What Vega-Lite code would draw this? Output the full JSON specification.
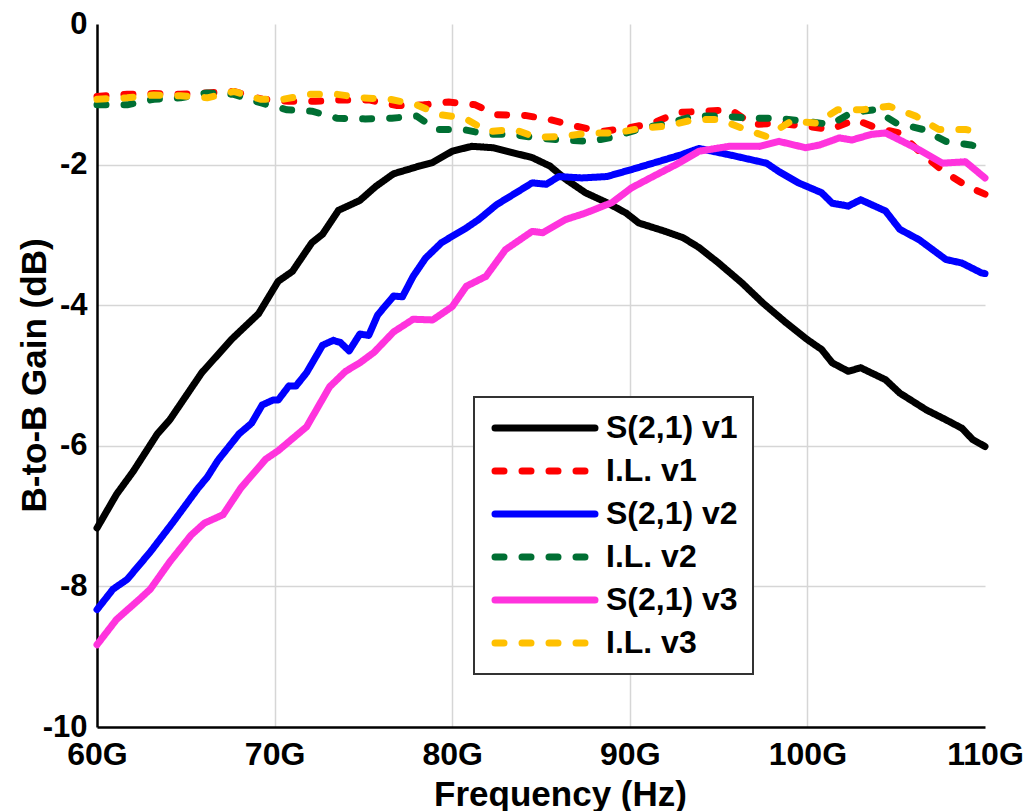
{
  "$schema": "https://vega.github.io/schema/vega-lite/v6.json",
  "width": 888,
  "height": 703,
  "autosize": "none",
  "padding": {"left": 97, "top": 24, "right": 51, "bottom": 84},
  "background": "white",
  "config": {
    "view": {"stroke": null},
    "font": "Liberation Sans",
    "legend": {"strokeWidth": 2}
  },
  "datasets": {
    "curves": [
      {"s": "S(2,1) v1", "f": 60.0, "g": -7.17}, {"s": "S(2,1) v1", "f": 61.1, "g": -6.69}, {"s": "S(2,1) v1", "f": 62.05, "g": -6.36}, {"s": "S(2,1) v1", "f": 63.4, "g": -5.83}, {"s": "S(2,1) v1", "f": 64.1, "g": -5.63}, {"s": "S(2,1) v1", "f": 65.9, "g": -4.96}, {"s": "S(2,1) v1", "f": 67.6, "g": -4.48}, {"s": "S(2,1) v1", "f": 69.1, "g": -4.12}, {"s": "S(2,1) v1", "f": 70.2, "g": -3.66}, {"s": "S(2,1) v1", "f": 71.0, "g": -3.52}, {"s": "S(2,1) v1", "f": 72.1, "g": -3.11}, {"s": "S(2,1) v1", "f": 72.7, "g": -2.99}, {"s": "S(2,1) v1", "f": 73.6, "g": -2.65}, {"s": "S(2,1) v1", "f": 74.8, "g": -2.51}, {"s": "S(2,1) v1", "f": 75.7, "g": -2.31}, {"s": "S(2,1) v1", "f": 76.7, "g": -2.13}, {"s": "S(2,1) v1", "f": 77.5, "g": -2.07}, {"s": "S(2,1) v1", "f": 78.15, "g": -2.02}, {"s": "S(2,1) v1", "f": 78.9, "g": -1.97}, {"s": "S(2,1) v1", "f": 80.0, "g": -1.81}, {"s": "S(2,1) v1", "f": 81.1, "g": -1.74}, {"s": "S(2,1) v1", "f": 82.3, "g": -1.76}, {"s": "S(2,1) v1", "f": 83.4, "g": -1.83}, {"s": "S(2,1) v1", "f": 84.5, "g": -1.9}, {"s": "S(2,1) v1", "f": 85.5, "g": -2.02}, {"s": "S(2,1) v1", "f": 86.4, "g": -2.21}, {"s": "S(2,1) v1", "f": 87.5, "g": -2.4}, {"s": "S(2,1) v1", "f": 88.7, "g": -2.54}, {"s": "S(2,1) v1", "f": 89.8, "g": -2.69}, {"s": "S(2,1) v1", "f": 90.5, "g": -2.83}, {"s": "S(2,1) v1", "f": 92.0, "g": -2.95}, {"s": "S(2,1) v1", "f": 93.0, "g": -3.04}, {"s": "S(2,1) v1", "f": 93.9, "g": -3.18}, {"s": "S(2,1) v1", "f": 95.0, "g": -3.4}, {"s": "S(2,1) v1", "f": 96.3, "g": -3.68}, {"s": "S(2,1) v1", "f": 97.5, "g": -3.97}, {"s": "S(2,1) v1", "f": 98.8, "g": -4.25}, {"s": "S(2,1) v1", "f": 100.0, "g": -4.49}, {"s": "S(2,1) v1", "f": 100.8, "g": -4.63}, {"s": "S(2,1) v1", "f": 101.4, "g": -4.82}, {"s": "S(2,1) v1", "f": 102.3, "g": -4.94}, {"s": "S(2,1) v1", "f": 103.0, "g": -4.89}, {"s": "S(2,1) v1", "f": 104.4, "g": -5.06}, {"s": "S(2,1) v1", "f": 105.2, "g": -5.25}, {"s": "S(2,1) v1", "f": 106.7, "g": -5.49}, {"s": "S(2,1) v1", "f": 107.8, "g": -5.63}, {"s": "S(2,1) v1", "f": 108.7, "g": -5.75}, {"s": "S(2,1) v1", "f": 109.3, "g": -5.91}, {"s": "S(2,1) v1", "f": 110.0, "g": -6.01},

      {"s": "I.L. v1", "f": 60.0, "g": -1.03}, {"s": "I.L. v1", "f": 61.7, "g": -1.0}, {"s": "I.L. v1", "f": 63.2, "g": -0.99}, {"s": "I.L. v1", "f": 64.7, "g": -1.0}, {"s": "I.L. v1", "f": 66.2, "g": -0.98}, {"s": "I.L. v1", "f": 67.7, "g": -0.96}, {"s": "I.L. v1", "f": 69.3, "g": -1.07}, {"s": "I.L. v1", "f": 70.8, "g": -1.1}, {"s": "I.L. v1", "f": 72.3, "g": -1.1}, {"s": "I.L. v1", "f": 73.8, "g": -1.08}, {"s": "I.L. v1", "f": 75.3, "g": -1.08}, {"s": "I.L. v1", "f": 76.9, "g": -1.16}, {"s": "I.L. v1", "f": 78.4, "g": -1.15}, {"s": "I.L. v1", "f": 79.8, "g": -1.11}, {"s": "I.L. v1", "f": 81.3, "g": -1.15}, {"s": "I.L. v1", "f": 82.5, "g": -1.29}, {"s": "I.L. v1", "f": 84.1, "g": -1.3}, {"s": "I.L. v1", "f": 85.5, "g": -1.36}, {"s": "I.L. v1", "f": 86.9, "g": -1.45}, {"s": "I.L. v1", "f": 88.4, "g": -1.53}, {"s": "I.L. v1", "f": 89.9, "g": -1.48}, {"s": "I.L. v1", "f": 91.3, "g": -1.41}, {"s": "I.L. v1", "f": 92.7, "g": -1.26}, {"s": "I.L. v1", "f": 94.2, "g": -1.24}, {"s": "I.L. v1", "f": 95.7, "g": -1.22}, {"s": "I.L. v1", "f": 96.9, "g": -1.43}, {"s": "I.L. v1", "f": 98.3, "g": -1.41}, {"s": "I.L. v1", "f": 99.8, "g": -1.45}, {"s": "I.L. v1", "f": 101.3, "g": -1.5}, {"s": "I.L. v1", "f": 102.7, "g": -1.36}, {"s": "I.L. v1", "f": 103.9, "g": -1.48}, {"s": "I.L. v1", "f": 105.2, "g": -1.55}, {"s": "I.L. v1", "f": 106.5, "g": -1.86}, {"s": "I.L. v1", "f": 107.7, "g": -2.1}, {"s": "I.L. v1", "f": 109.0, "g": -2.31}, {"s": "I.L. v1", "f": 110.0, "g": -2.42},

      {"s": "S(2,1) v2", "f": 60.0, "g": -8.33}, {"s": "S(2,1) v2", "f": 60.9, "g": -8.04}, {"s": "S(2,1) v2", "f": 61.7, "g": -7.9}, {"s": "S(2,1) v2", "f": 63.0, "g": -7.51}, {"s": "S(2,1) v2", "f": 64.3, "g": -7.08}, {"s": "S(2,1) v2", "f": 65.7, "g": -6.6}, {"s": "S(2,1) v2", "f": 66.2, "g": -6.45}, {"s": "S(2,1) v2", "f": 66.8, "g": -6.21}, {"s": "S(2,1) v2", "f": 68.0, "g": -5.83}, {"s": "S(2,1) v2", "f": 68.7, "g": -5.68}, {"s": "S(2,1) v2", "f": 69.3, "g": -5.42}, {"s": "S(2,1) v2", "f": 69.9, "g": -5.35}, {"s": "S(2,1) v2", "f": 70.2, "g": -5.35}, {"s": "S(2,1) v2", "f": 70.8, "g": -5.15}, {"s": "S(2,1) v2", "f": 71.2, "g": -5.15}, {"s": "S(2,1) v2", "f": 71.8, "g": -4.96}, {"s": "S(2,1) v2", "f": 72.7, "g": -4.57}, {"s": "S(2,1) v2", "f": 73.3, "g": -4.5}, {"s": "S(2,1) v2", "f": 73.7, "g": -4.53}, {"s": "S(2,1) v2", "f": 74.2, "g": -4.65}, {"s": "S(2,1) v2", "f": 74.8, "g": -4.41}, {"s": "S(2,1) v2", "f": 75.3, "g": -4.43}, {"s": "S(2,1) v2", "f": 75.8, "g": -4.14}, {"s": "S(2,1) v2", "f": 76.7, "g": -3.87}, {"s": "S(2,1) v2", "f": 77.2, "g": -3.88}, {"s": "S(2,1) v2", "f": 77.8, "g": -3.59}, {"s": "S(2,1) v2", "f": 78.5, "g": -3.33}, {"s": "S(2,1) v2", "f": 79.4, "g": -3.11}, {"s": "S(2,1) v2", "f": 80.8, "g": -2.9}, {"s": "S(2,1) v2", "f": 81.5, "g": -2.78}, {"s": "S(2,1) v2", "f": 82.5, "g": -2.57}, {"s": "S(2,1) v2", "f": 83.6, "g": -2.4}, {"s": "S(2,1) v2", "f": 84.5, "g": -2.26}, {"s": "S(2,1) v2", "f": 85.3, "g": -2.28}, {"s": "S(2,1) v2", "f": 86.0, "g": -2.17}, {"s": "S(2,1) v2", "f": 87.3, "g": -2.19}, {"s": "S(2,1) v2", "f": 88.7, "g": -2.17}, {"s": "S(2,1) v2", "f": 90.1, "g": -2.07}, {"s": "S(2,1) v2", "f": 91.7, "g": -1.95}, {"s": "S(2,1) v2", "f": 92.9, "g": -1.86}, {"s": "S(2,1) v2", "f": 93.9, "g": -1.77}, {"s": "S(2,1) v2", "f": 95.6, "g": -1.86}, {"s": "S(2,1) v2", "f": 97.7, "g": -1.98}, {"s": "S(2,1) v2", "f": 98.4, "g": -2.1}, {"s": "S(2,1) v2", "f": 99.5, "g": -2.26}, {"s": "S(2,1) v2", "f": 100.8, "g": -2.4}, {"s": "S(2,1) v2", "f": 101.4, "g": -2.55}, {"s": "S(2,1) v2", "f": 102.3, "g": -2.59}, {"s": "S(2,1) v2", "f": 103.0, "g": -2.5}, {"s": "S(2,1) v2", "f": 104.4, "g": -2.66}, {"s": "S(2,1) v2", "f": 105.2, "g": -2.92}, {"s": "S(2,1) v2", "f": 106.3, "g": -3.07}, {"s": "S(2,1) v2", "f": 107.8, "g": -3.35}, {"s": "S(2,1) v2", "f": 108.7, "g": -3.4}, {"s": "S(2,1) v2", "f": 109.8, "g": -3.54}, {"s": "S(2,1) v2", "f": 110.0, "g": -3.55},

      {"s": "I.L. v2", "f": 60.0, "g": -1.15}, {"s": "I.L. v2", "f": 61.7, "g": -1.15}, {"s": "I.L. v2", "f": 63.2, "g": -1.07}, {"s": "I.L. v2", "f": 64.7, "g": -1.05}, {"s": "I.L. v2", "f": 66.2, "g": -0.98}, {"s": "I.L. v2", "f": 67.7, "g": -1.0}, {"s": "I.L. v2", "f": 69.2, "g": -1.12}, {"s": "I.L. v2", "f": 70.7, "g": -1.22}, {"s": "I.L. v2", "f": 72.1, "g": -1.24}, {"s": "I.L. v2", "f": 73.5, "g": -1.34}, {"s": "I.L. v2", "f": 75.1, "g": -1.35}, {"s": "I.L. v2", "f": 76.6, "g": -1.34}, {"s": "I.L. v2", "f": 78.0, "g": -1.31}, {"s": "I.L. v2", "f": 79.1, "g": -1.5}, {"s": "I.L. v2", "f": 80.6, "g": -1.5}, {"s": "I.L. v2", "f": 82.0, "g": -1.57}, {"s": "I.L. v2", "f": 83.4, "g": -1.57}, {"s": "I.L. v2", "f": 84.7, "g": -1.62}, {"s": "I.L. v2", "f": 86.2, "g": -1.65}, {"s": "I.L. v2", "f": 87.8, "g": -1.67}, {"s": "I.L. v2", "f": 89.2, "g": -1.6}, {"s": "I.L. v2", "f": 90.7, "g": -1.48}, {"s": "I.L. v2", "f": 92.2, "g": -1.41}, {"s": "I.L. v2", "f": 93.6, "g": -1.31}, {"s": "I.L. v2", "f": 95.2, "g": -1.31}, {"s": "I.L. v2", "f": 96.7, "g": -1.34}, {"s": "I.L. v2", "f": 98.2, "g": -1.34}, {"s": "I.L. v2", "f": 99.8, "g": -1.38}, {"s": "I.L. v2", "f": 101.3, "g": -1.43}, {"s": "I.L. v2", "f": 102.5, "g": -1.26}, {"s": "I.L. v2", "f": 103.8, "g": -1.22}, {"s": "I.L. v2", "f": 105.0, "g": -1.41}, {"s": "I.L. v2", "f": 106.5, "g": -1.5}, {"s": "I.L. v2", "f": 107.8, "g": -1.67}, {"s": "I.L. v2", "f": 109.2, "g": -1.72}, {"s": "I.L. v2", "f": 110.0, "g": -1.78},

      {"s": "S(2,1) v3", "f": 60.0, "g": -8.83}, {"s": "S(2,1) v3", "f": 61.1, "g": -8.47}, {"s": "S(2,1) v3", "f": 62.4, "g": -8.18}, {"s": "S(2,1) v3", "f": 63.0, "g": -8.04}, {"s": "S(2,1) v3", "f": 64.1, "g": -7.65}, {"s": "S(2,1) v3", "f": 65.3, "g": -7.27}, {"s": "S(2,1) v3", "f": 66.05, "g": -7.1}, {"s": "S(2,1) v3", "f": 67.1, "g": -6.98}, {"s": "S(2,1) v3", "f": 68.1, "g": -6.6}, {"s": "S(2,1) v3", "f": 69.5, "g": -6.19}, {"s": "S(2,1) v3", "f": 70.2, "g": -6.07}, {"s": "S(2,1) v3", "f": 71.0, "g": -5.9}, {"s": "S(2,1) v3", "f": 71.8, "g": -5.73}, {"s": "S(2,1) v3", "f": 73.1, "g": -5.16}, {"s": "S(2,1) v3", "f": 74.0, "g": -4.94}, {"s": "S(2,1) v3", "f": 74.8, "g": -4.82}, {"s": "S(2,1) v3", "f": 75.6, "g": -4.67}, {"s": "S(2,1) v3", "f": 76.7, "g": -4.38}, {"s": "S(2,1) v3", "f": 77.8, "g": -4.2}, {"s": "S(2,1) v3", "f": 78.9, "g": -4.21}, {"s": "S(2,1) v3", "f": 80.0, "g": -4.02}, {"s": "S(2,1) v3", "f": 80.8, "g": -3.73}, {"s": "S(2,1) v3", "f": 81.9, "g": -3.59}, {"s": "S(2,1) v3", "f": 83.0, "g": -3.21}, {"s": "S(2,1) v3", "f": 84.5, "g": -2.95}, {"s": "S(2,1) v3", "f": 85.1, "g": -2.97}, {"s": "S(2,1) v3", "f": 86.4, "g": -2.78}, {"s": "S(2,1) v3", "f": 87.5, "g": -2.69}, {"s": "S(2,1) v3", "f": 89.0, "g": -2.54}, {"s": "S(2,1) v3", "f": 90.1, "g": -2.33}, {"s": "S(2,1) v3", "f": 91.3, "g": -2.17}, {"s": "S(2,1) v3", "f": 92.6, "g": -2.0}, {"s": "S(2,1) v3", "f": 93.9, "g": -1.81}, {"s": "S(2,1) v3", "f": 95.6, "g": -1.74}, {"s": "S(2,1) v3", "f": 97.3, "g": -1.74}, {"s": "S(2,1) v3", "f": 98.4, "g": -1.67}, {"s": "S(2,1) v3", "f": 99.9, "g": -1.76}, {"s": "S(2,1) v3", "f": 100.7, "g": -1.72}, {"s": "S(2,1) v3", "f": 101.8, "g": -1.62}, {"s": "S(2,1) v3", "f": 102.5, "g": -1.65}, {"s": "S(2,1) v3", "f": 103.6, "g": -1.57}, {"s": "S(2,1) v3", "f": 104.4, "g": -1.55}, {"s": "S(2,1) v3", "f": 105.2, "g": -1.65}, {"s": "S(2,1) v3", "f": 106.3, "g": -1.79}, {"s": "S(2,1) v3", "f": 107.6, "g": -1.98}, {"s": "S(2,1) v3", "f": 108.9, "g": -1.96}, {"s": "S(2,1) v3", "f": 110.0, "g": -2.19},

      {"s": "I.L. v3", "f": 60.0, "g": -1.07}, {"s": "I.L. v3", "f": 61.7, "g": -1.05}, {"s": "I.L. v3", "f": 63.2, "g": -1.01}, {"s": "I.L. v3", "f": 64.7, "g": -1.02}, {"s": "I.L. v3", "f": 66.2, "g": -1.05}, {"s": "I.L. v3", "f": 67.7, "g": -0.96}, {"s": "I.L. v3", "f": 69.2, "g": -1.07}, {"s": "I.L. v3", "f": 70.5, "g": -1.07}, {"s": "I.L. v3", "f": 72.0, "g": -1.0}, {"s": "I.L. v3", "f": 73.5, "g": -1.0}, {"s": "I.L. v3", "f": 74.9, "g": -1.05}, {"s": "I.L. v3", "f": 76.5, "g": -1.07}, {"s": "I.L. v3", "f": 78.0, "g": -1.15}, {"s": "I.L. v3", "f": 79.3, "g": -1.29}, {"s": "I.L. v3", "f": 80.7, "g": -1.34}, {"s": "I.L. v3", "f": 82.0, "g": -1.53}, {"s": "I.L. v3", "f": 83.5, "g": -1.5}, {"s": "I.L. v3", "f": 84.7, "g": -1.61}, {"s": "I.L. v3", "f": 86.2, "g": -1.6}, {"s": "I.L. v3", "f": 87.7, "g": -1.55}, {"s": "I.L. v3", "f": 89.2, "g": -1.55}, {"s": "I.L. v3", "f": 90.7, "g": -1.48}, {"s": "I.L. v3", "f": 92.1, "g": -1.45}, {"s": "I.L. v3", "f": 93.6, "g": -1.36}, {"s": "I.L. v3", "f": 95.1, "g": -1.36}, {"s": "I.L. v3", "f": 96.5, "g": -1.5}, {"s": "I.L. v3", "f": 97.7, "g": -1.6}, {"s": "I.L. v3", "f": 99.1, "g": -1.38}, {"s": "I.L. v3", "f": 100.5, "g": -1.41}, {"s": "I.L. v3", "f": 101.7, "g": -1.22}, {"s": "I.L. v3", "f": 103.1, "g": -1.22}, {"s": "I.L. v3", "f": 104.6, "g": -1.17}, {"s": "I.L. v3", "f": 106.1, "g": -1.31}, {"s": "I.L. v3", "f": 107.4, "g": -1.5}, {"s": "I.L. v3", "f": 108.9, "g": -1.5}, {"s": "I.L. v3", "f": 110.0, "g": -1.55}
    ]
  },
  "data": {"name": "curves"},
  "mark": {"type": "line", "strokeWidth": 7, "strokeCap": "round", "strokeJoin": "round"},
  "encoding": {
    "x": {
      "field": "f", "type": "quantitative",
      "scale": {"domain": [60, 110], "nice": false, "zero": false},
      "axis": {
        "values": [60, 70, 80, 90, 100, 110],
        "labelExpr": "datum.value + 'G'",
        "title": "Frequency (Hz)",
        "titleFontSize": 35, "titleFontWeight": "bold", "titleColor": "black",
        "titleX": 463, "titleY": 78, "titleBaseline": "alphabetic",
        "labelFontSize": 32, "labelFontWeight": "bold", "labelColor": "black",
        "labelPadding": 12, "labelFlush": false,
        "ticks": false, "domainColor": "black", "domainWidth": 2.5,
        "grid": true, "gridColor": "#d6d6d6", "gridWidth": 1.5,
        "gridOpacity": {"condition": {"test": "datum.value == 60 || datum.value == 110", "value": 0}, "value": 1}
      }
    },
    "y": {
      "field": "g", "type": "quantitative",
      "scale": {"domain": [-10, 0], "nice": false, "zero": false},
      "axis": {
        "values": [-10, -8, -6, -4, -2, 0],
        "labelExpr": "'' + datum.value",
        "title": "B-to-B Gain (dB)",
        "titleFontSize": 35, "titleFontWeight": "bold", "titleColor": "black",
        "titleX": -52, "titleY": 351, "titleBaseline": "alphabetic", "titleAngle": -90,
        "labelFontSize": 31, "labelFontWeight": "bold", "labelColor": "black",
        "labelPadding": 10, "labelFlush": false,
        "ticks": false, "domainColor": "black", "domainWidth": 2.5,
        "grid": true, "gridColor": "#d6d6d6", "gridWidth": 1.5,
        "gridOpacity": {"condition": {"test": "datum.value == 0 || datum.value == -10", "value": 0}, "value": 1}
      }
    },
    "color": {
      "field": "s", "type": "nominal",
      "scale": {
        "domain": ["S(2,1) v1", "I.L. v1", "S(2,1) v2", "I.L. v2", "S(2,1) v3", "I.L. v3"],
        "range": ["#000000", "#ff0000", "#0000ff", "#006f33", "#ff33dd", "#ffc000"]
      },
      "legend": {
        "title": null,
        "orient": "none", "legendX": 377, "legendY": 373,
        "symbolType": "M-10,0H90", "symbolSize": 4, "symbolStrokeWidth": 7,
        "labelFontSize": 32, "labelFontWeight": "bold", "labelColor": "black", "labelLimit": 0,
        "labelOffset": 85, "rowPadding": 11, "padding": 15,
        "strokeColor": "#333333", "fillColor": "white",
        "encode": {"symbols": {"update": {"strokeCap": {"value": "round"}}}}
      }
    },
    "strokeDash": {
      "field": "s", "type": "nominal",
      "scale": {
        "domain": ["S(2,1) v1", "I.L. v1", "S(2,1) v2", "I.L. v2", "S(2,1) v3", "I.L. v3"],
        "range": [[1, 0], [9, 18], [1, 0], [9, 18], [1, 0], [9, 18]]
      },
      "legend": null
    }
  }
}
